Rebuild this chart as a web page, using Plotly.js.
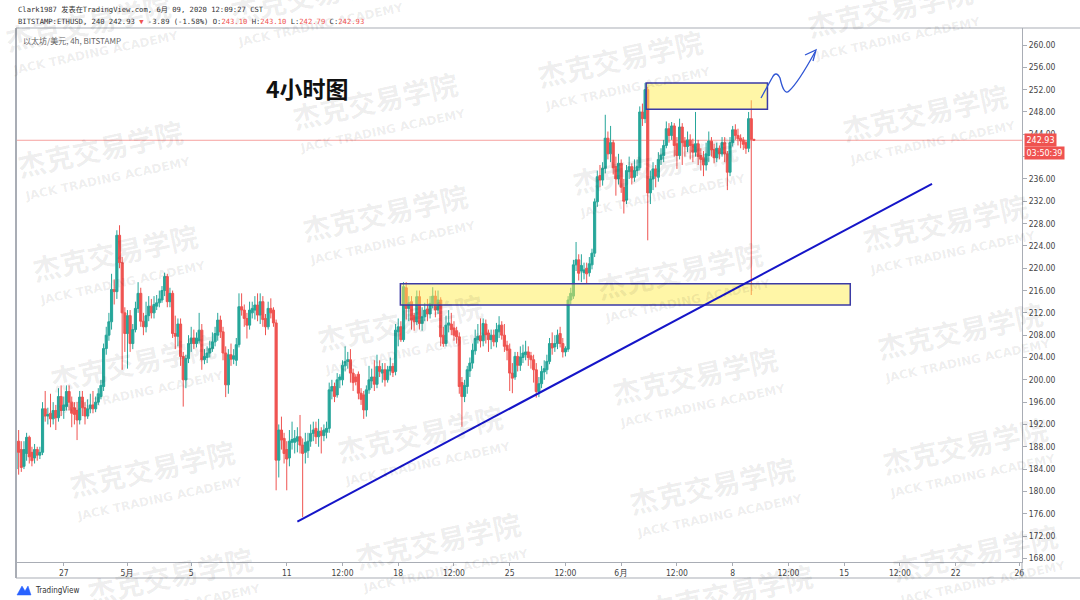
<!DOCTYPE html>
<html>
<head>
<meta charset="utf-8">
<script src="https://cdn.plot.ly/plotly-3.0.1.min.js"></script>
<style>html,body{margin:0;padding:0;background:#fff;}#chart{width:1080px;height:600px;}</style>
</head>
<body>
<div id="chart"></div>
<script>
// 4h bars, ETHUSD (Bitstamp). Bar index 0 = 27 Apr 2020 00:00 CST; first bar = 24 Apr 00:00.
const firstBarIndex = -18;

const opens = [
  184,189,187.5,184.5,186.8,189.7,          // Apr 24
  187,186,187.5,186.5,187,194.8,            // Apr 25
  193.5,194,193,194.5,193.2,197,            // Apr 26
  194.5,195.2,197.9,196,195,194.5,          // Apr 27
  192.8,196.9,195,193.5,194.8,195.5,        // Apr 28
  194.8,196,197,198.8,205.6,208,            // Apr 29
  210.4,216.2,215.8,225.9,221,212,          // Apr 30
  208.3,211.5,206.5,209,212.8,215.5,        // May 1
  210.5,209.5,211.5,213.2,212,213.2,        // May 2
  213.8,214.3,216,218.5,214,215.5,          // May 3
  208.3,207.8,210,204.2,200,203.8,          // May 4
  206.5,207.5,206.5,207,208.9,203.6,        // May 5
  204,204.8,205.6,206.8,208,210.7,          // May 6
  208.6,204.8,199.1,204.5,203.7,203.5,      // May 7
  206.3,213.1,212.5,211,209.8,212,          // May 8
  212.5,213.4,211.6,214,211,209.5,          // May 9
  212.8,212.5,210.2,185.6,191,189.5,        // May 10
  187.5,186,188.8,188.8,189,189.8,          // May 11
  188.3,187,187.3,189,190.4,191.3,          // May 12
  189.8,190.8,190,190.6,191.3,198,          // May 13
  198.8,197.3,200,200,202.5,203.3,          // May 14
  203.6,201.2,200.5,201,197.6,197.3,        // May 15
  194.6,198.2,199.8,200.5,199.2,202.4,      // May 16
  201.2,201.8,200,201.6,202.4,201.5,        // May 17
  208.6,209.5,207.2,216.5,212.8,214,        // May 18
  211.5,210.4,214.9,210.1,211.3,212.7,      // May 19
  211.8,213.6,215,212.5,214.3,208,          // May 20
  206.5,209.8,210,209.3,208.8,207.7,        // May 21
  199.5,197,198.8,201.6,203,205.2,          // May 22
  207.2,207.9,207,210,208.4,207.2,          // May 23
  208,206.8,208.6,209.8,208,206.2,          // May 24
  205.5,201.2,200.5,204.2,202.6,204,        // May 25
  204.5,205,204.3,203.6,201.8,197.9,        // May 26
  199.3,201.4,201.8,203.3,206.5,205.9,      // May 27
  206.5,208.3,206.5,205,205.5,214.3,        // May 28
  215,220.6,221.5,219.5,219.2,220,          // May 29
  219.2,220.6,222.7,231.9,236.6,235.8,      // May 30
  237.9,243.3,240.5,242.5,238.2,236,        // May 31
  238.8,234.5,232.2,237.3,238.2,236.3,      // Jun 1
  237.5,238,248,246.8,252,233.5,            // Jun 2
  236,237.8,236.3,239.5,240.2,242,          // Jun 3
  245,243.8,245.5,242.3,240.2,245.3,        // Jun 4
  242.8,241.8,243,242.2,240.8,242.3,        // Jun 5
  240.2,239.8,238.5,240.2,242.8,241.3,      // Jun 6
  239.8,241.5,240.5,242.5,240.5,237.2,      // Jun 7
  242.5,244.8,243.8,243.3,243,242.5,        // Jun 8
  241.5,246.8,243.1                         // Jun 9
];
const highs = [
  194.5,191,189,189,190.5,190,
  188,188.5,188,188,196,198,
  195,197.5,196,195.5,198.5,199,
  197,199,199,197,196,196,
  198,198,196,196.5,197.5,198,
  197,198.5,200,206.5,209.5,212,
  219,218,226.8,227.7,222,213,
  212.5,212.5,210,214,217.5,216.5,
  212,214,215,214.5,215,215.2,
  216,216.8,219.2,219,216.5,216,
  211.5,211,211,205,204.5,208,
  209.5,209,208.5,212,210,205.5,
  206,207,208.5,209.5,212,211.5,
  209.5,206,205.5,206.5,205.5,207.5,
  215.5,215.5,213.5,212,214,214,
  215,215.5,215.5,215,211.8,214,
  214.6,213,210.8,192,193.4,190.5,
  189,191,192.5,191,191.5,193.7,
  189.5,190.5,190.5,192,192.5,192.5,
  193,191.5,192,192.5,199.5,200,
  199.5,201.2,201,203.5,206,205,
  205.5,202,201,201.5,198.5,198,
  199,202.5,202,203.5,204.5,203.5,
  203,203,202.5,204,203,210,
  211,210.5,217.5,217.5,215,215,
  212,216,216,213,213.8,214.5,
  215,216.6,216,216,214.8,209.5,
  211.5,212.5,212,210.5,209.5,208.5,
  200.5,200,202.5,204,206.5,209,
  210,211,211,210.8,209,209,
  209,210.2,211.4,210.5,210,207,
  206.5,203,205,205,206,206.3,
  207,206,205,204.5,203,200.5,
  202.5,203.5,204.5,207.5,208.5,208,
  209,209.5,207.5,206,215,216.5,
  221.5,224.7,222.5,222.5,221,221,
  222,223.5,232.5,237.5,238.5,239,
  247.5,244.5,245.5,243,240,240.5,
  239.5,236,238.5,240,238.8,239.5,
  239.5,249,249.5,253.2,252.5,237.5,
  239,238.5,240.8,241.5,243,246.3,
  246,246.2,246,243.5,246.8,246,
  243.5,244.5,244,243.2,248,243,
  241.5,241,242.5,244.5,243.5,242.3,
  242.5,242,243.5,243.5,241,243.5,
  245.5,245.8,245,244,243.5,243,
  248,250.1,243.1
];
const lows = [
  183,183,183.5,184,185.5,185,
  184.5,185,185.5,185.8,186.5,192.5,
  192,191.5,192,191,192.5,193.5,
  193,194.5,194.5,191.5,192,189.2,
  192,193.5,192,193,194,194,
  194.2,195.5,196.5,198,204.5,207,
  209,213.5,214.5,220,201.8,205,
  202,205,205.5,208.5,212,209.5,
  208,208.5,210.5,211,211,212.5,
  213,213.8,215,213,213,207.5,
  205.5,206,202.5,195.2,198.5,203,
  205,205.5,205.8,206.5,201.8,202.8,
  203,204,205,206,207,207.5,
  203.5,196.9,197.5,202.5,202.8,202.5,
  205.8,211.5,209.5,207.4,209,211,
  210.8,210.5,210,209.5,208,209,
  211,209.5,180.2,182.5,187.5,185,
  180.2,184.5,187.5,186.8,187,186.8,
  175.4,185,186,188,189,188.5,
  188,186.8,189,189.5,190.5,196.5,
  196,196.8,198.5,199,201.5,202,
  199.5,198,199,196.5,195.5,193,
  193.4,197.5,198.5,198,198.5,200.5,
  199.5,198.8,199.5,200.8,200.5,200.8,
  206,206.8,206.8,210.8,210.5,209,
  208.8,209.8,209,208.8,210.5,210.5,
  211,212.8,211.2,211.8,206,205.9,
  206,208.5,208,207,206.5,197.5,
  191.6,196,197.5,200.5,202,204.5,
  206.5,205.8,206,206.5,205,205.5,
  206,205.8,207.5,207.2,205,203.5,
  198,197.6,200,201.5,201.6,203,
  203.5,202.5,202,199.5,196.8,196.9,
  198.5,200,201,202.8,204.5,205,
  205.5,205.8,204,204.2,205,213.5,
  214.5,219.5,217.8,217.5,218,217.2,
  218.5,219.8,222,231,234.5,234.8,
  237,239.5,239,236.8,233,235,
  233.5,229.8,231.5,236,235,235.5,
  236.5,237.5,245.5,246,225,231.5,
  234,234.5,235.5,238.5,239,241.5,
  242.5,243,240,237.8,239.5,238.5,
  240,240.8,239.5,239,240,238.5,
  237.5,236.5,237.5,239,240,238.8,
  239,239.5,240,239,234,236.5,
  241.8,243,242,241.5,241.2,240.5,
  240.8,215.2,242.79
];
const closes = [
  189,187,184.3,187.5,189.7,186.2,
  185.5,187.5,186.5,187,194.8,193.5,
  193.8,193,194.5,193.2,197,194.5,
  195.5,197.9,196,194,193.8,192.8,
  196.9,195,193.5,194.8,195.5,194.8,
  196,197.5,199,205.6,208,210.4,
  216.2,215.8,225.9,221,212,208.3,
  211.5,206.5,209,212.8,215.5,210.5,
  209.5,211.5,213.2,212,213.5,213.8,
  214.5,216,218.5,214,215.5,208.3,
  207.8,210,204.2,200,203.8,206.5,
  207.5,206.5,207.5,208.9,203.6,204.2,
  204.8,205.6,206.8,208.3,210.7,208.6,
  204.8,199.1,204.5,203.7,204.3,206.3,
  213.1,212.5,211,209.8,212.5,212.8,
  213.4,211.6,214,210.8,209.5,212.8,
  212,210.2,185.6,191,189.2,186.8,
  185.8,189,189.3,189.5,189.8,188.3,
  186.8,188.8,189,190.4,191,189.8,
  190.8,190,191,191.3,198.2,198.8,
  197,200,200.5,202.6,203.3,203.6,
  201.2,199.5,199.7,197.6,196.5,194.6,
  198.2,200,200.5,199.2,202.4,201.5,
  201.8,200,201.8,202.4,201.3,208.9,
  209.5,207.2,216.7,212.8,213.8,210.7,
  210.4,214.9,210.1,211.3,212.5,211.8,
  213.7,215,212.5,214.3,207.7,206.5,
  209.8,210.2,209,208,207.7,198.8,
  197,199,201.8,203,205.3,207.4,
  207.8,207,210.1,208.1,207.2,208,
  206.8,209,209.8,208,206,205.3,
  201.2,200.3,204.2,202.6,204.1,204.8,
  205,204,203.6,201.8,197.9,199.3,
  201.5,202,203.3,206.5,205.7,206.5,
  208,206.5,205,205.6,214.3,215.5,
  220.6,221.5,219.1,220.5,219.7,219,
  220.8,222.7,231.9,236.4,235.8,237.9,
  243.3,240.5,242.5,238,236,238.8,
  234.5,232,237.5,238.2,236.2,237.5,
  238.2,248,246.8,252,233.5,236,
  237.8,236.5,239.5,240.3,242,245,
  243.8,245.5,242,240.2,245.3,242.5,
  241.8,243,242,240.8,242.3,240,
  239.5,238.5,240.5,242.8,241.2,239.8,
  241.5,240.5,242.5,240.5,237.2,242.5,
  244.8,243.8,243.2,242.8,242.2,241.5,
  246.8,243.1,242.93
];

const xTickIdx  = [0, 24, 48, 84, 105, 126, 147, 168, 189, 210, 231, 252, 273, 294, 315, 336, 360];
const xTickText = ['27','5月','5','11','12:00','18','12:00','25','12:00','6月','12:00','8','12:00','15','12:00','22','26'];
const yTickVals = [168,172,176,180,184,188,192,196,200,204,208,212,216,220,224,228,232,236,240,244,248,252,256,260];
const yTickHidden = [240];   // covered by the countdown label in the reference

const lastPrice = 242.93;
const countdownText = '03:50:39';
const trendLine = {x0: 88, y0: 174.6, x1: 327.1, y1: 235.1};
const zoneUpper = {x0: 219.4, x1: 265.1, y0: 248.5, y1: 253.2};
const zoneLower = {x0: 126.8, x1: 296.3, y0: 213.4, y1: 217.2};

const headerLine1 = 'Clark1987 发表在TradingView.com, 6月 09, 2020 12:09:27 CST';
const headerLine2 = 'BITSTAMP:ETHUSD, 240 242.93 <span style="color:#ef5350">▼</span> -3.89 (-1.58%) O:<span style="color:#ef5350">243.10</span> H:<span style="color:#ef5350">243.10</span> L:<span style="color:#ef5350">242.79</span> C:<span style="color:#ef5350">242.93</span>';
const seriesLabel = '以太坊/美元, 4h, BITSTAMP';
const chartTitle = '4小时图';

// watermark centres (pixels)
const watermarkPos = [[88,22],[313,-6],[620,58],[890,8],[100,148],[375,100],[655,165],[925,112],
  [115,252],[385,212],[680,270],[945,222],[133,362],[400,322],[695,375],[960,330],
  [152,468],[420,433],[712,485],[965,445],[170,575],[438,540],[730,592],[975,552]];

// hand-drawn arrow (pixels)
const squiggle = [['M',761,98],['L',772,78],['Q',776,70,780,78],['Q',784,96,789,91],['Q',798,83,815,52]];
const arrowHead = [['M',805,55],['L',816,50],['L',813,61]];

// ---------- build ----------
const PL = 16, PR = 1022, PT = 28, PB = 562;
const pxX = x => (x - PL) / (PR - PL);
const pxY = y => (PB - y) / (PB - PT);
const toPath = cmds => cmds.map(c => {
  let s = c[0];
  for (let k = 1; k < c.length; k += 2) s += ' ' + pxX(c[k]).toFixed(5) + ',' + pxY(c[k+1]).toFixed(5);
  return s;
}).join(' ');

const xs = opens.map((_, k) => firstBarIndex + k);

const trace = {
  type: 'candlestick',
  x: xs, open: opens, high: highs, low: lows, close: closes,
  increasing: {line: {color: '#26a69a', width: 1}, fillcolor: '#26a69a'},
  decreasing: {line: {color: '#ef5350', width: 1}, fillcolor: '#ef5350'},
  whiskerwidth: 0,
  hoverinfo: 'skip'
};

const frameCol = '#a9adb5';
const shapes = [
  {type:'line', xref:'paper', yref:'y', x0:0, x1:1, y0:lastPrice, y1:lastPrice, line:{color:'rgba(239,83,80,0.55)', width:1}, layer:'below'},
  {type:'rect', xref:'x', yref:'y', x0:zoneLower.x0, x1:zoneLower.x1, y0:zoneLower.y0, y1:zoneLower.y1,
    fillcolor:'rgba(255,238,80,0.5)', line:{color:'#3b3ba6', width:1.5}, layer:'above'},
  {type:'rect', xref:'x', yref:'y', x0:zoneUpper.x0, x1:zoneUpper.x1, y0:zoneUpper.y0, y1:zoneUpper.y1,
    fillcolor:'rgba(255,238,80,0.5)', line:{color:'#3b3ba6', width:1.5}, layer:'above'},
  {type:'line', xref:'x', yref:'y', x0:trendLine.x0, y0:trendLine.y0, x1:trendLine.x1, y1:trendLine.y1,
    line:{color:'#1515c8', width:2}, layer:'above'},
  {type:'path', xref:'paper', yref:'paper', path: toPath(squiggle), line:{color:'#2f55d4', width:1.3}},
  {type:'path', xref:'paper', yref:'paper', path: toPath(arrowHead), line:{color:'#2f55d4', width:1.3}},
  {type:'line', xref:'paper', yref:'paper', x0:0, x1:0, y0:pxY(578), y1:pxY(PT), line:{color:frameCol, width:2}},
  {type:'line', xref:'paper', yref:'paper', x0:0, x1:pxX(1080), y0:pxY(PT), y1:pxY(PT), line:{color:frameCol, width:1}},
  {type:'line', xref:'paper', yref:'paper', x0:0, x1:pxX(1080), y0:pxY(578), y1:pxY(578), line:{color:frameCol, width:1}},
  {type:'line', xref:'paper', yref:'paper', x0:1, x1:1, y0:pxY(578), y1:pxY(PB), line:{color:frameCol, width:1}},
  {type:'path', xref:'paper', yref:'paper', path: toPath([['M',17,595],['L',22,586],['L',25,591],['L',28,586],['L',31,595],['Z']]), fillcolor:'#2962ff', line:{color:'#2962ff', width:0.5}}
];

const annotations = [];
watermarkPos.forEach(p => {
  annotations.push({xref:'paper', yref:'paper', x:pxX(p[0]), y:pxY(p[1]), xanchor:'center', yanchor:'middle',
    text:'<b>杰克交易学院</b>', showarrow:false, textangle:-12,
    font:{family:'Noto Sans CJK SC, sans-serif', size:28, color:'rgba(0,0,0,0.075)'}});
  annotations.push({xref:'paper', yref:'paper', x:pxX(p[0] + 7), y:pxY(p[1] + 31), xanchor:'center', yanchor:'middle',
    text:'<b>JACK TRADING ACADEMY</b>', showarrow:false, textangle:-12,
    font:{family:'DejaVu Sans, sans-serif', size:12, color:'rgba(0,0,0,0.08)'}});
});
annotations.push(
  {xref:'paper', yref:'paper', x:pxX(16), y:pxY(10), xanchor:'left', yanchor:'middle', showarrow:false,
    text: headerLine1, font:{family:'DejaVu Sans Mono, Noto Sans CJK SC, monospace', size:7.2, color:'#333'}},
  {xref:'paper', yref:'paper', x:pxX(16), y:pxY(21), xanchor:'left', yanchor:'middle', showarrow:false,
    text: headerLine2, font:{family:'DejaVu Sans Mono, monospace', size:7.2, color:'#333'}},
  {xref:'paper', yref:'paper', x:pxX(21), y:pxY(40), xanchor:'left', yanchor:'middle', showarrow:false,
    text: seriesLabel, font:{family:'Noto Sans CJK SC, DejaVu Sans, sans-serif', size:8, color:'#666'}},
  {xref:'paper', yref:'paper', x:pxX(307), y:pxY(88), xanchor:'center', yanchor:'middle', showarrow:false,
    text:'<b>' + chartTitle + '</b>', font:{family:'Noto Sans CJK SC, sans-serif', size:23, color:'#111'}},
  {xref:'paper', yref:'y', x:1, y:lastPrice, xanchor:'left', yanchor:'middle', xshift:2, showarrow:false,
    text: lastPrice.toFixed(2), bgcolor:'#ef5350', borderpad:1.5, font:{family:'DejaVu Sans, sans-serif', size:8, color:'#fff'}},
  {xref:'paper', yref:'y', x:1, y:lastPrice, xanchor:'left', yanchor:'middle', xshift:2, yshift:-13, showarrow:false,
    text: countdownText, bgcolor:'#ef5350', borderpad:1.5, font:{family:'DejaVu Sans, sans-serif', size:8, color:'#fff'}},
  {xref:'paper', yref:'paper', x:pxX(33), y:pxY(590), xanchor:'left', yanchor:'middle', showarrow:false,
    text:'TradingView', font:{family:'DejaVu Sans Condensed, Liberation Sans Narrow, Roboto, sans-serif', size:8, color:'#333'}}
);

const tickFont = {family:'DejaVu Sans Condensed, Liberation Sans Narrow, Roboto, sans-serif', size:8.5, color:'#444'};
const layout = {
  width:1080, height:600,
  margin:{l:PL, r:1080 - PR, t:PT, b:600 - PB, pad:0},
  paper_bgcolor:'#ffffff', plot_bgcolor:'#ffffff',
  showlegend:false,
  boxgap:0.2, boxgroupgap:0,
  xaxis:{range:[-18, 361], tickmode:'array', tickvals:xTickIdx, ticktext:xTickText,
    showgrid:false, zeroline:false, showline:true, linecolor:frameCol, linewidth:1,
    ticks:'outside', ticklen:3, tickcolor:frameCol, tickfont:tickFont,
    rangeslider:{visible:false}, fixedrange:true},
  yaxis:{side:'right', range:[167.35, 263.05], tickmode:'array', tickvals:yTickVals,
    ticktext:yTickVals.map(v => yTickHidden.includes(v) ? '' : v.toFixed(2)),
    showgrid:false, zeroline:false, showline:true, linecolor:frameCol, linewidth:1,
    ticks:'outside', ticklen:4, tickcolor:frameCol, tickfont:tickFont, fixedrange:true},
  shapes: shapes,
  annotations: annotations
};

Plotly.newPlot('chart', [trace], layout, {displayModeBar:false, staticPlot:true});
</script>
</body>
</html>
